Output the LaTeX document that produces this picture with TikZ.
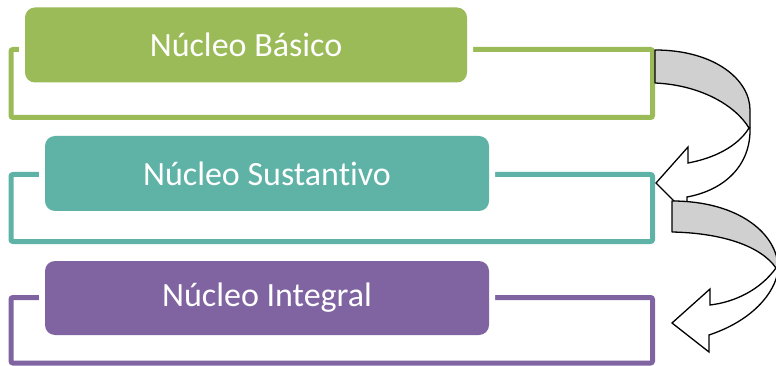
\documentclass[tikz,border=0pt]{standalone}
\usepackage{fontspec}
\setmainfont{Carlito}[Ligatures={NoCommon}]
\definecolor{cgreen}{HTML}{9BBB59}
\definecolor{cteal}{HTML}{5EB2A6}
\definecolor{cpurple}{HTML}{8064A2}
\definecolor{cband}{HTML}{D0D0D0}
\tikzset{
  boxnode/.style={fill=#1, rounded corners=10pt, inner sep=0pt,
    preaction={draw=white, line width=12pt, rounded corners=10pt},
    text=white, font=\fontsize{34}{40}\selectfont},
  framebox/.style={draw=#1, line width=5pt, rounded corners=2pt},
  backband/.style={fill=cband, draw=black, line width=1.3pt, line join=round},
  frontband/.style={fill=white, draw=black, line width=1.3pt, line join=miter}
}
\begin{document}
\begin{tikzpicture}[x=1pt, y=-1pt]
\useasboundingbox (0,0) rectangle (776,366);
\clip (0,0) rectangle (776,366);
% frames
\draw[framebox=cgreen] (11,49.5) rectangle (652.5,117.5);
\draw[framebox=cteal] (11,174.5) rectangle (652.5,241.5);
\draw[framebox=cpurple] (11,297.5) rectangle (652.5,363);
% boxes
\node[boxnode=cgreen, minimum width=442pt, minimum height=75pt] (b1) at (246,45) {Núcleo Básico};
\node[boxnode=cteal, minimum width=444pt, minimum height=75pt] (b2) at (267,173.5) {Núcleo Sustantivo};
\node[boxnode=cpurple, minimum width=444pt, minimum height=74pt] (b3) at (267,298) {Núcleo Integral};
% curved arrow 1
\path[backband] (655,50) .. controls (715,50) and (750,80) .. (750,110) -- (750,128)
  -- (749,128) .. controls (735,105) and (700,85) .. (655,83) -- cycle;
\path[frontband] (749,128) .. controls (738,146) and (715,158) .. (688,163) -- (688,147)
  -- (656,183) -- (687,214) -- (687,197) .. controls (725,190) and (751,165) .. (750,128) -- cycle;
% curved arrow 2
\path[backband] (672,201) .. controls (740,201) and (778,235) .. (778,268)
  -- (776,268) .. controls (760,245) and (720,233) .. (672,232) -- cycle;
\path[frontband] (776,268) .. controls (760,290) and (735,302) .. (710,305) -- (710,289)
  -- (672,323) -- (709,352) -- (709,335) .. controls (760,318) and (778,285) .. (778,268) -- cycle;
\end{tikzpicture}
\end{document}
